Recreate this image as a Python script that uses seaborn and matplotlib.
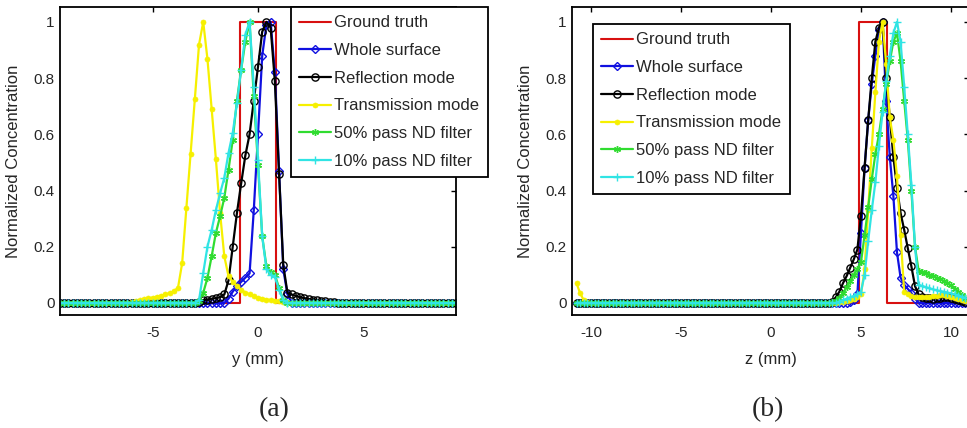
import numpy as np
import pandas as pd
import matplotlib
matplotlib.use("Agg")
import matplotlib.pyplot as plt
import seaborn as sns
from matplotlib.ticker import FormatStrFormatter

sns.set_style("white")
plt.rcParams['font.family'] = ['Liberation Sans', 'DejaVu Sans']
plt.rcParams['axes.unicode_minus'] = False

# ---------------- data ----------------
series_names = ["Ground truth", "Whole surface", "Reflection mode",
                "Transmission mode", "50% pass ND filter", "10% pass ND filter"]
step = 0.2
grid_a = np.round(np.arange(-9.4, 9.4 + 1e-9, step), 1)
grid_b = np.round(np.arange(-10.8, 10.8 + 1e-9, step), 1)

# ground truth (step profile edges)
gt_a_x = [-9.4, -0.85, -0.85, 0.85, 0.85, 9.4]
gt_a_y = [0, 0, 1, 1, 0, 0]
gt_b_x = [-10.8, 4.9, 4.9, 6.45, 6.45, 10.8]
gt_b_y = [0, 0, 1, 1, 0, 0]

# panel (a): (start x, values) segments; elsewhere baseline 0
ws_a = [(-1.6, [0.0, 0.015, 0.04, 0.06, 0.075, 0.09, 0.105, 0.33, 0.6, 0.88,
                0.99, 1.0, 0.82, 0.47, 0.12, 0.03, 0.0])]
rm_a = [(-3.0, [0.0, 0.005, 0.01, 0.012, 0.015, 0.017, 0.02, 0.03, 0.08, 0.2,
                0.32, 0.425, 0.525, 0.6, 0.72, 0.84, 0.965, 1.0, 0.98, 0.79,
                0.46, 0.135, 0.035, 0.03, 0.025, 0.02, 0.017, 0.014, 0.012,
                0.01, 0.008, 0.006, 0.004, 0.002, 0.0])]
tm_a = [(-6.0, [0.005, 0.008, 0.01, 0.013, 0.016, 0.019, 0.022, 0.026, 0.03,
                0.035, 0.042, 0.053, 0.142, 0.338, 0.531, 0.724, 0.919, 1.0,
                0.868, 0.69, 0.512, 0.32, 0.166, 0.095, 0.075, 0.06, 0.047,
                0.037, 0.03, 0.024, 0.019, 0.015, 0.012, 0.01, 0.008, 0.006,
                0.004, 0.002, 0.0])]
nd50_a = [(-3.0, [0.0, 0.006, 0.036, 0.089, 0.166, 0.249, 0.308, 0.374, 0.474,
                  0.58, 0.72, 0.83, 0.93, 1.0, 0.735, 0.49, 0.237, 0.13, 0.11,
                  0.1, 0.053, 0.012, 0.0])]
nd10_a = [(-3.0, [0.0, 0.01, 0.107, 0.2, 0.26, 0.33, 0.39, 0.445, 0.534, 0.605,
                  0.71, 0.83, 0.955, 1.0, 0.77, 0.51, 0.237, 0.12, 0.1, 0.093,
                  0.047, 0.01, 0.0])]

# panel (b)
ws_b = [(4.2, [0.0, 0.005, 0.01, 0.03, 0.25, 0.48, 0.65, 0.78, 0.88, 0.97, 1.0,
               0.72, 0.52, 0.38, 0.18, 0.09, 0.065, 0.05, 0.035, 0.015, 0.0])]
rm_b = [(3.4, [0.005, 0.02, 0.04, 0.07, 0.095, 0.125, 0.155, 0.19, 0.31, 0.48,
               0.65, 0.8, 0.93, 0.98, 1.0, 0.8, 0.66, 0.52, 0.41, 0.32, 0.26,
               0.195, 0.13, 0.06, 0.03, 0.02, 0.018, 0.016, 0.015, 0.016,
               0.018, 0.02, 0.02, 0.018, 0.014, 0.01, 0.006, 0.003])]
tm_b = [(-10.8, [0.07, 0.035, 0.01, 0.005]),
        (3.8, [0.003, 0.005, 0.008, 0.01, 0.013, 0.02, 0.03, 0.12, 0.33, 0.55,
               0.75, 0.93, 1.0, 0.85, 0.66, 0.58, 0.45, 0.24, 0.04, 0.03,
               0.025, 0.02, 0.02, 0.02, 0.02, 0.022, 0.024, 0.026, 0.027,
               0.027, 0.025, 0.022, 0.018, 0.014, 0.01, 0.006])]
nd50_b = [(3.2, [0.0, 0.003, 0.008, 0.018, 0.035, 0.055, 0.077, 0.1, 0.12,
                 0.145, 0.24, 0.34, 0.44, 0.53, 0.6, 0.69, 0.78, 0.86, 0.93,
                 0.96, 0.86, 0.72, 0.58, 0.4, 0.2, 0.115, 0.11, 0.105, 0.1,
                 0.096, 0.09, 0.085, 0.078, 0.07, 0.062, 0.05, 0.04, 0.028,
                 0.018])]
nd10_b = [(3.6, [0.0, 0.005, 0.01, 0.015, 0.02, 0.025, 0.03, 0.04, 0.1, 0.22,
                 0.33, 0.43, 0.56, 0.68, 0.79, 0.88, 0.96, 1.0, 0.93, 0.77,
                 0.6, 0.42, 0.2, 0.065, 0.06, 0.056, 0.052, 0.048, 0.045,
                 0.042, 0.04, 0.037, 0.034, 0.03, 0.026, 0.022, 0.018])]

yticks = [0, 0.2, 0.4, 0.6, 0.8, 1]
xticks_a = [-5, 0, 5]
xticks_b = [-10, -5, 0, 5, 10]


def build(grid, segments):
    y = np.zeros(len(grid))
    for start, vals in segments:
        i = int(round((start - grid[0]) / step))
        y[i:i + len(vals)] = vals
    return y


colors = {"Ground truth": "#d81010", "Whole surface": "#1010e0",
          "Reflection mode": "#000000", "Transmission mode": "#f6f000",
          "50% pass ND filter": "#30dc30", "10% pass ND filter": "#30e4e4"}
styles = {
    "Whole surface": dict(marker="D", markersize=3.6, markerfacecolor="none", markeredgewidth=1.0),
    "Reflection mode": dict(marker="o", markersize=5.2, markerfacecolor="none", markeredgewidth=1.0),
    "Transmission mode": dict(marker="o", markersize=3.6, markeredgewidth=0.5),
    "50% pass ND filter": dict(marker=(6, 2, 0), markersize=5, markeredgewidth=1.0),
    "10% pass ND filter": dict(marker="+", markersize=5.5, markeredgewidth=1.0),
}

W, H = 967, 428
fig = plt.figure(figsize=(W / 100, H / 100), dpi=100)
ax_a = fig.add_axes([60 / W, 1 - 315 / H, 396 / W, 308 / H])
ax_b = fig.add_axes([572 / W, 1 - 315 / H, 397 / W, 308 / H])

panels = [
    (ax_a, grid_a, (gt_a_x, gt_a_y), [ws_a, rm_a, tm_a, nd50_a, nd10_a],
     (-9.4, 9.4), xticks_a, "y (mm)", (291, 7)),
    (ax_b, grid_b, (gt_b_x, gt_b_y), [ws_b, rm_b, tm_b, nd50_b, nd10_b],
     (-11.05, 11.0), xticks_b, "z (mm)", (593, 24)),
]

for ax, grid, gt, segs, xlim, xt, xlabel, legpos in panels:
    sns.lineplot(x=gt[0], y=gt[1], ax=ax, color=colors["Ground truth"], lw=1.5,
                 estimator=None, sort=False, label="Ground truth")
    for name, seg in zip(series_names[1:], segs):
        df = pd.DataFrame({"x": grid, "y": build(grid, seg)})
        c = colors[name]
        sns.lineplot(data=df, x="x", y="y", ax=ax, color=c, lw=1.6,
                     markeredgecolor=c, estimator=None, sort=False,
                     label=name, **styles[name])
    ax.set_xlim(*xlim)
    ax.set_ylim(-0.043, 1.053)
    ax.set_xticks(xt)
    ax.set_yticks(yticks)
    ax.yaxis.set_major_formatter(FormatStrFormatter('%g'))
    ax.tick_params(direction="in", top=True, right=True, length=3.5, width=1,
                   labelsize=11, color="black")
    ax.tick_params(axis="x", pad=8)
    ax.tick_params(axis="y", pad=4)
    for s in ax.spines.values():
        s.set_color("black")
        s.set_linewidth(1.3)
    ax.set_xlabel(xlabel, fontsize=12)
    ax.set_ylabel("Normalized Concentration", fontsize=12)
    ax.xaxis.set_label_coords(0.5, -0.12)
    ax.yaxis.set_label_coords(-39 / 396, 0.5)
    ax.legend(loc="upper left", bbox_to_anchor=(legpos[0] / W, 1 - legpos[1] / H),
              bbox_transform=fig.transFigure, borderaxespad=0, frameon=True,
              fancybox=False, framealpha=1, edgecolor="black", fontsize=12,
              borderpad=0.5, labelspacing=0.76, handlelength=1.9,
              handletextpad=0.2)
    ax.get_legend().get_frame().set_linewidth(1.3)

fig.text(274 / W, 1 - 410 / H, "(a)", ha="center", va="center",
         family="Liberation Serif", fontsize=20)
fig.text(768 / W, 1 - 410 / H, "(b)", ha="center", va="center",
         family="Liberation Serif", fontsize=20)

fig.savefig("out.png", dpi=100)
